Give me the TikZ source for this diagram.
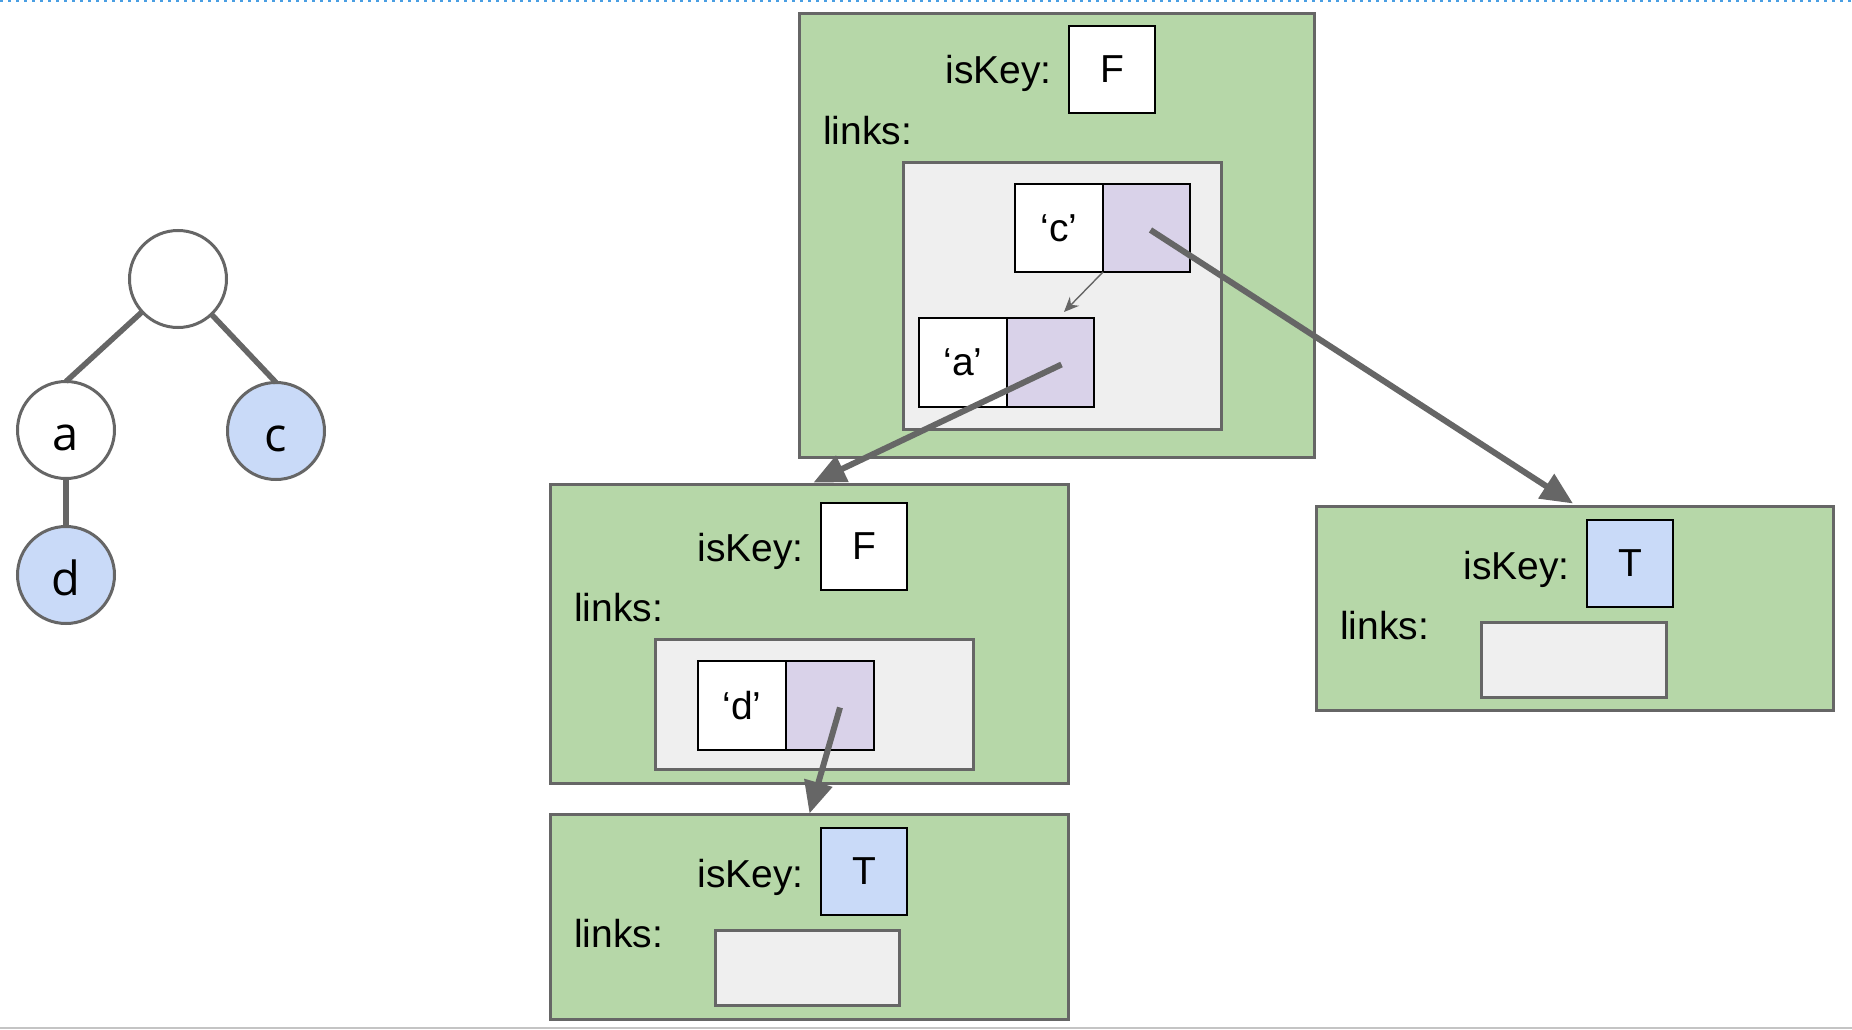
\documentclass[tikz,border=0pt]{standalone}
\usepackage{fontspec}
\usetikzlibrary{arrows.meta,calc}
\newfontfamily\arialf{Liberation Sans}
\newfontfamily\treef{Open Sans}
\definecolor{edgegray}{HTML}{666666}
\definecolor{greenF}{HTML}{B6D7A8}
\definecolor{grayF}{HTML}{EFEFEF}
\definecolor{purpleF}{HTML}{D9D2E9}
\definecolor{blueF}{HTML}{C9DAF8}
\definecolor{dotblue}{HTML}{4A9FE3}
\definecolor{rulegray}{HTML}{C4C4C4}
\tikzset{
  greenbox/.style={draw=edgegray, fill=greenF, line width=3pt, anchor=north west, inner sep=0pt, outer sep=0pt},
  linkbox/.style={draw=edgegray, fill=grayF, line width=3pt, anchor=north west, inner sep=0pt, outer sep=0pt},
  cell/.style={draw=black, line width=2pt, fill=white, anchor=north west, inner sep=0pt, outer sep=0pt,
               font=\arialf\fontsize{39}{44}\selectfont},
  ptrcell/.style={cell, fill=purpleF},
  flagcell/.style={cell, minimum width=86pt, minimum height=87pt},
  lbl/.style={inner sep=0pt, font=\arialf\fontsize{39}{44}\selectfont},
  tnode/.style={circle, draw=edgegray, line width=3pt, minimum size=97pt, inner sep=0pt, outer sep=0pt,
                text height=40pt, text depth=0pt, font=\treef\fontsize{47}{50}\selectfont},
  tedge/.style={draw=edgegray, line width=5.5pt},
  bigarrow/.style={draw=edgegray, line width=6pt, -{Triangle[length=32pt,width=28pt]}},
  smallarrow/.style={draw=edgegray, line width=1.4pt, -{Stealth[length=15pt,width=13pt,inset=5pt]}},
}
\begin{document}
\begin{tikzpicture}[x=1pt,y=-1pt]
\useasboundingbox (0,0) rectangle (1852,1030);
\fill[white] (0,0) rectangle (1852,1030);
% page rules
\draw[dotblue, line width=2pt, dash pattern=on 3pt off 5pt] (0,1) -- (1852,1);
\draw[rulegray, line width=2.5pt] (0,1028) -- (1852,1028);

% ---------- tree ----------
\node[tnode] (root) at (178,279) {};
\node[tnode] (ta) at (66,430) {a};
\node[tnode, fill=blueF] (tc) at (276,431) {c};
\node[tnode, fill=blueF] (td) at (66,575) {d};
\draw[tedge] (root) -- (ta.north);
\draw[tedge] (root) -- (tc.north);
\draw[tedge] (ta) -- (td);

% ---------- top node ----------
\node[greenbox, minimum width=515pt, minimum height=444pt] (top) at (799.5,13.5) {};
\node[flagcell] (topflag) at (1069,26) {F};
\node[lbl, anchor=base east] (topkey) at (1052,84) {isKey:};
\node[lbl, anchor=west] (toplinks) at (823,131) {links:};
\node[linkbox, minimum width=318pt, minimum height=267pt] (toplist) at (903.5,162.5) {};
\node[cell, minimum width=88pt, minimum height=88pt] (ckey) at (1015,184) {‘c’};
\node[ptrcell, minimum width=87pt, minimum height=88pt] (cptr) at (1103,184) {};
\node[cell, minimum width=88pt, minimum height=89pt] (akey) at (919,318) {‘a’};
\node[ptrcell, minimum width=87pt, minimum height=89pt] (aptr) at (1007,318) {};

% ---------- middle node (a) ----------
\node[greenbox, minimum width=518pt, minimum height=299pt] (mid) at (550.5,484.5) {};
\node[flagcell] (midflag) at (821,503) {F};
\node[lbl, anchor=base east] (midkey) at (804,561) {isKey:};
\node[lbl, anchor=west] (midlinks) at (574,608) {links:};
\node[linkbox, minimum width=318pt, minimum height=130pt] (midlist) at (655.5,639.5) {};
\node[cell, minimum width=88pt, minimum height=89pt] (dkey) at (698,661) {‘d’};
\node[ptrcell, minimum width=88pt, minimum height=89pt] (dptr) at (786,661) {};

% ---------- bottom node (d) ----------
\node[greenbox, minimum width=518pt, minimum height=205pt] (bot) at (550.5,814.5) {};
\node[flagcell, fill=blueF] (botflag) at (821,828) {T};
\node[lbl, anchor=base east] (botkey) at (804,887) {isKey:};
\node[lbl, anchor=west] (botlinks) at (574,934) {links:};
\node[linkbox, minimum width=184pt, minimum height=75pt] (botlist) at (715.5,930.5) {};

% ---------- right node (c) ----------
\node[greenbox, minimum width=517pt, minimum height=204pt] (right) at (1316.5,506.5) {};
\node[flagcell, fill=blueF] (rightflag) at (1587,520) {T};
\node[lbl, anchor=base east] (rightkey) at (1570,579) {isKey:};
\node[lbl, anchor=west] (rightlinks) at (1340,626) {links:};
\node[linkbox, minimum width=185pt, minimum height=75pt] (rightlist) at (1481.5,622.5) {};

% ---------- pointers ----------
\coordinate (cstart) at ($(cptr.center)+(4,2)$);
\coordinate (astart) at ($(aptr.center)+(11,2)$);
\coordinate (dstart) at ($(dptr.center)+(10,2)$);
\coordinate (anext) at (1064,312);
\draw[smallarrow] (ckey.south east) -- (anext);
\draw[bigarrow] (astart) -- ($(mid.north)+(4,-2)$);
\draw[bigarrow] (cstart) -- ($(right.north)+(-2,-3)$);
\draw[bigarrow] (dstart) -- ($(bot.north)+(0,-1)$);
\end{tikzpicture}
\end{document}
